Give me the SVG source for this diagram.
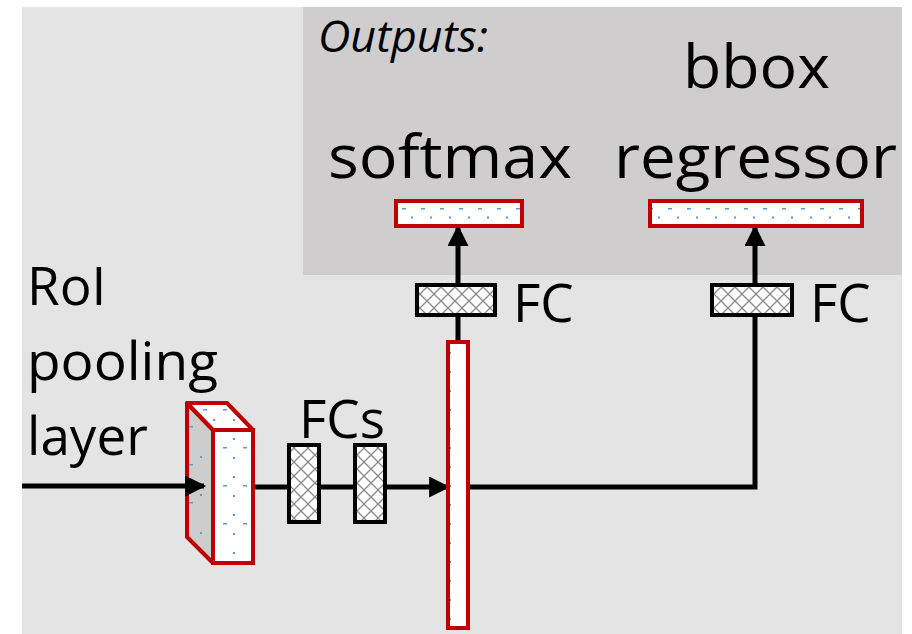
<svg xmlns="http://www.w3.org/2000/svg" width="912" height="634" viewBox="0 0 912 634">
<style>
.t{font-family:"Open Sans","Noto Sans",sans-serif;fill:#000}
.big{font-size:53px}
.huge{font-size:60px}
.red{stroke:#c00000;stroke-width:4}
.fc{fill:url(#hatch);stroke:#000;stroke-width:4}
.ln{stroke:#000;stroke-width:5;fill:none}
</style>
<defs>
<pattern id="hatch" width="14" height="14" patternUnits="userSpaceOnUse">
<rect width="14" height="14" fill="#fff"/>
<path d="M0 0L14 14M14 0L0 14" stroke="#8a8a8a" stroke-width="1.3"/>
</pattern>
<pattern id="dotsH" x="0" y="201" width="19" height="25" patternUnits="userSpaceOnUse">
<rect width="19" height="25" fill="#fff"/>
<rect x="3" y="7" width="4" height="1.5" fill="#5b9bd5"/>
<rect x="12" y="15.5" width="2" height="2" fill="#5b9bd5"/>
</pattern>
<pattern id="dotsV" x="0" y="345" width="20" height="19" patternUnits="userSpaceOnUse">
<rect width="20" height="19" fill="#fff"/>
<rect x="9" y="7" width="2" height="2" fill="#5b9bd5"/>
</pattern>
<pattern id="dotsR" x="0" y="405" width="20" height="38" patternUnits="userSpaceOnUse">
<rect width="20" height="38" fill="#fff"/>
<rect x="3" y="4" width="4" height="1.5" fill="#5b9bd5"/>
<rect x="13" y="14" width="2" height="2" fill="#5b9bd5"/>
<rect x="13" y="33" width="2" height="2" fill="#5b9bd5"/>
</pattern>
<pattern id="dotsL" x="0" y="405" width="26" height="38" patternUnits="userSpaceOnUse">
<rect width="26" height="38" fill="#cdcdcd"/>
<rect x="7" y="21" width="4" height="1.5" fill="#5b9bd5"/>
<rect x="18" y="13" width="2" height="2" fill="#5b9bd5"/>
</pattern>
<marker id="ah" viewBox="0 0 10 10" refX="9" refY="5" markerWidth="4.4" markerHeight="4.2" orient="auto" markerUnits="strokeWidth">
<path d="M0 0L10 5L0 10z" fill="#000"/>
</marker>
</defs>
<rect x="22" y="7" width="880" height="627" fill="#e4e4e4"/>
<rect x="303" y="7" width="599" height="268" fill="#cfcdcd"/>
<text class="t" x="318" y="52" font-size="44" font-style="italic" textLength="170" lengthAdjust="spacingAndGlyphs">Outputs:</text>
<text class="t huge" x="328" y="178" textLength="244" lengthAdjust="spacingAndGlyphs">softmax</text>
<text class="t huge" x="683" y="88" textLength="147" lengthAdjust="spacingAndGlyphs">bbox</text>
<text class="t huge" x="614" y="178" textLength="283" lengthAdjust="spacingAndGlyphs">regressor</text>
<text class="t big" x="513" y="322">FC</text>
<text class="t big" x="810" y="322">FC</text>
<text class="t big" x="299" y="438">FCs</text>
<text class="t big" x="27" y="305">RoI</text>
<text class="t big" x="27" y="380" textLength="191" lengthAdjust="spacingAndGlyphs">pooling</text>
<text class="t big" x="27" y="455">layer</text>
<g id="roi">
<path d="M187 403L213 430V563L187 537Z" fill="url(#dotsL)" class="red" stroke-linejoin="round"/>
<path d="M187 403H227L253 430H213Z" fill="url(#dotsR)" class="red" stroke-linejoin="round"/>
<rect x="213" y="430" width="40" height="133" fill="url(#dotsR)" class="red"/>
</g>
<g id="fcs1"><rect class="fc" x="289" y="445" width="30" height="77"/></g>
<g id="fcs2"><rect class="fc" x="355" y="445" width="30" height="77"/></g>
<g id="fc-softmax"><rect class="fc" x="417" y="285" width="78" height="30"/></g>
<g id="fc-bbox"><rect class="fc" x="712" y="285" width="80" height="30"/></g>
<g id="connectors">
<path class="ln" d="M22 486H204" marker-end="url(#ah)"/>
<path class="ln" d="M255 487H289M319 487H355M385 487H448" marker-end="url(#ah)"/>
<path class="ln" d="M468 487H755V317M755 283V227" marker-end="url(#ah)"/>
<path class="ln" d="M458 342V317M458 283V227" marker-end="url(#ah)"/>
</g>
<g id="feature"><rect x="448" y="342" width="20" height="286" fill="url(#dotsV)" class="red"/></g>
<g id="softmax-out"><rect x="396" y="201" width="126" height="25" fill="url(#dotsH)" class="red"/></g>
<g id="bbox-out"><rect x="650" y="201" width="212" height="25" fill="url(#dotsH)" class="red"/></g>
</svg>
